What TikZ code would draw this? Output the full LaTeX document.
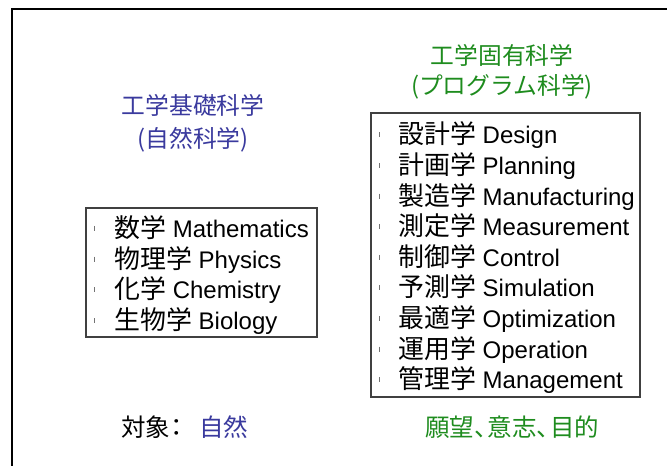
\documentclass[tikz,border=0pt]{standalone}
\usepackage{fontspec}
\setmainfont{Liberation Sans}
\newfontfamily\cjk[Scale=1.08]{Noto Sans CJK JP}
\newfontfamily\cjkp[Scale=1.08,RawFeature=+palt]{Noto Sans CJK JP}
\definecolor{tblue}{HTML}{3A3A9E}
\definecolor{tgreen}{HTML}{1E8C1E}
\newcommand\jp[1]{{\cjk #1}}
\begin{document}
\begin{tikzpicture}[x=0.75pt,y=-0.75pt,
  itemtext/.style={anchor=base west,inner sep=0pt,font=\fontsize{18pt}{20pt}\selectfont},
  titletext/.style={anchor=base,inner sep=0pt,font=\fontsize{16.5pt}{18pt}\selectfont\cjk},
  bottomtext/.style={anchor=base west,inner sep=0pt,font=\fontsize{17pt}{19pt}\selectfont\cjkp},
  listbox/.style={draw=black!75,line width=0.9pt},
  ticks/.style={draw=black!55,line width=0.7pt}]
\useasboundingbox (0,0) rectangle (667,466);
\clip (0,0) rectangle (667,466);
\fill[white] (0,0) rectangle (667,466);
\draw[line width=1.6pt] (12,9) rectangle (700,500);
% titles
\node[titletext,text=tblue] (t1) at (193,115) {工学基礎科学};
\node[titletext,text=tblue] (t2) at (193,148) {(自然科学)};
\node[titletext,text=tgreen] (t3) at (502,65) {工学固有科学};
\node[titletext,text=tgreen] (t4) at (502,95) {(プログラム科学)};
% left box
\draw[listbox] (86,208) rectangle (317,337);
\foreach \i/\t in {0/{\jp{数学} Mathematics},1/{\jp{物理学} Physics},2/{\jp{化学} Chemistry},3/{\jp{生物学} Biology}}{
  \pgfmathsetmacro\cy{228.5+30.7*\i}
  \draw[ticks] (94,\cy-2.5) -- (94,\cy+2.5);
  \node[itemtext] (l\i) at (114,\cy+9) {\t};
}
% right box
\draw[listbox] (371,113) rectangle (640,397);
\foreach \i/\t in {0/{\jp{設計学} Design},1/{\jp{計画学} Planning},2/{\jp{製造学} Manufacturing},3/{\jp{測定学} Measurement},4/{\jp{制御学} Control},5/{\jp{予測学} Simulation},6/{\jp{最適学} Optimization},7/{\jp{運用学} Operation},8/{\jp{管理学} Management}}{
  \pgfmathsetmacro\cy{135+30.6*\i}
  \draw[ticks] (379,\cy-2.5) -- (379,\cy+2.5);
  \node[itemtext] (r\i) at (398,\cy+9) {\t};
}
% bottom
\node[bottomtext] (b1) at (121,436) {対象：};
\node[bottomtext,text=tblue] (b2) at (199,436) {自然};
\node[bottomtext,text=tgreen] (b3) at (425,436) {願望、\kern1pt意志、\kern1pt目的};
\end{tikzpicture}
\end{document}
